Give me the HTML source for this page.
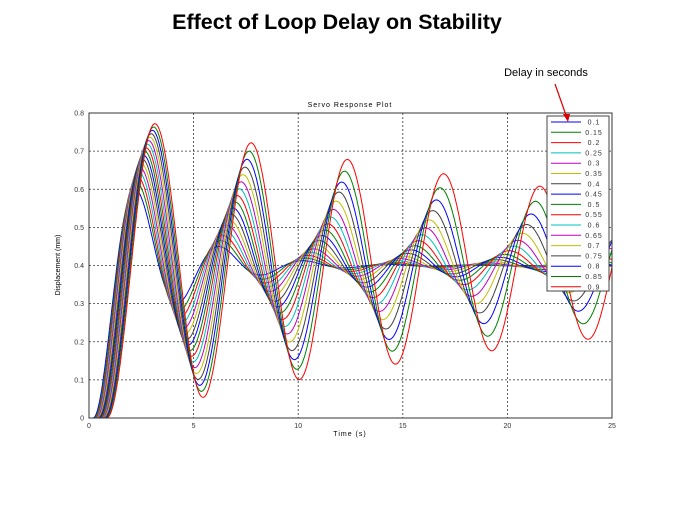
<!DOCTYPE html>
<html><head><meta charset="utf-8"><style>
body{margin:0;background:#fff;width:674px;height:506px;overflow:hidden;font-family:"Liberation Sans",sans-serif}
</style></head><body>
<svg id="s" width="674" height="506" xmlns="http://www.w3.org/2000/svg" font-family="Liberation Sans, sans-serif">
<text x="337" y="29" text-anchor="middle" font-size="21.5" font-weight="bold">Effect of Loop Delay on Stability</text>
<text x="546" y="76" text-anchor="middle" font-size="11">Delay  in  seconds</text>
<text x="350" y="107" text-anchor="middle" font-size="7" letter-spacing="1">Servo Response Plot</text>
<text x="350" y="436" text-anchor="middle" font-size="7" letter-spacing="1">Time (s)</text>
<text x="60" y="265" text-anchor="middle" font-size="7" transform="rotate(-90 60 265)">Displacement (mm)</text>
<defs><clipPath id="c"><rect x="89" y="113" width="523" height="305"/></clipPath></defs>
<g id="grid" stroke="#333" stroke-width="0.8" stroke-dasharray="2,2"></g>
<g id="curves" clip-path="url(#c)" fill="none" stroke-width="1"></g>
<rect x="89" y="113" width="523" height="305" fill="none" stroke="#333" stroke-width="1"/>
<g id="ticks" font-size="7" fill="#333"></g>
<g id="leg"></g>
<line x1="555" y1="84" x2="567" y2="118" stroke="#d00" stroke-width="1.2"/>
<polygon points="568,122 563,114 570,114" fill="#d00"/>
</svg>
<script>
var ns="http://www.w3.org/2000/svg";
function el(p,t,a,txt){var e=document.createElementNS(ns,t);for(var k in a)e.setAttribute(k,a[k]);if(txt!==undefined)e.textContent=txt;p.appendChild(e);return e;}
var X=function(t){return 89+t*20.92},Y=function(v){return 418-v*381.25};
var g=document.getElementById('grid'),tk=document.getElementById('ticks');
for(var i=1;i<5;i++){el(g,'line',{x1:X(i*5),y1:113,x2:X(i*5),y2:418});}
for(var i=1;i<8;i++){el(g,'line',{x1:89,y1:Y(i/10),x2:612,y2:Y(i/10)});}
for(var i=0;i<=5;i++)el(tk,'text',{x:X(i*5),y:428,'text-anchor':'middle'},String(i*5));
for(var i=0;i<=8;i++)el(tk,'text',{x:84,y:Y(i/10)+2.5,'text-anchor':'end'},i==0?'0':(i/10).toFixed(1));
var cols=['#0000ff','#008000','#ff0000','#00bfbf','#bf00bf','#bfbf00','#404040'];
var cv=document.getElementById('curves'),lg=document.getElementById('leg');
for(var k=0;k<17;k++){
 var d=0.1+k*0.05,f=(d-0.1)/0.8;
 var r=0.5+0.43*Math.pow(f,0.8),h=2.0+0.3*f,t0=0.2+0.65*f;
 var a=-Math.log(r)/h,w=Math.PI/h,pts=[];
 for(var t=0;t<=25.01;t+=0.05){var tau=t-t0,y;
  if(tau<=0)y=0;else y=0.4-0.4*Math.exp(-a*tau)*(Math.cos(w*tau)+a/w*Math.sin(w*tau));
  pts.push(X(t).toFixed(1)+','+Y(y).toFixed(1));}
 el(cv,'polyline',{points:pts.join(' '),stroke:cols[k%7]});
}
el(lg,'rect',{x:547,y:116,width:62,height:175,fill:'#fff',stroke:'#444','stroke-width':1});
for(var k=0;k<17;k++){var yy=122+k*10.3;var d=(0.1+k*0.05);
 el(lg,'line',{x1:551,y1:yy,x2:581,y2:yy,stroke:cols[k%7]});
 el(lg,'text',{x:594,y:yy+2.5,'font-size':7,'text-anchor':'middle',fill:'#333','letter-spacing':'1'},String(+d.toFixed(2)));}
</script>
</body></html>
